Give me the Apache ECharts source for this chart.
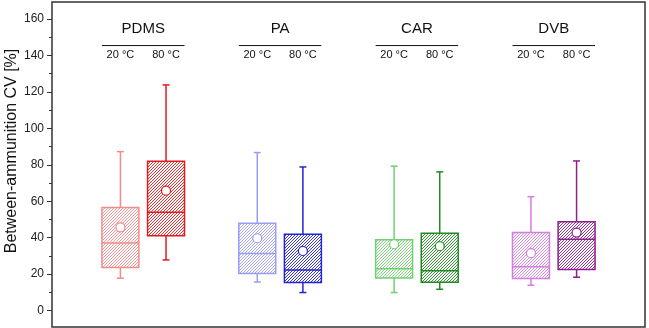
<!DOCTYPE html>
<html>
<head>
<meta charset="utf-8">
<script src="https://cdn.jsdelivr.net/npm/echarts@6/dist/echarts.min.js"></script>
<style>
	html, body { margin: 0; padding: 0; background: #fff; }
	#main { width: 649px; height: 328px; }
</style>
</head>
<body>
<div id="main"></div>
<script>
'use strict';
// groups and temperatures
var groups = ['PDMS', 'PA', 'CAR', 'DVB'];
var temps = ['20 °C', '80 °C'];
// box statistics, order: PDMS 20/80, PA 20/80, CAR 20/80, DVB 20/80
var whiskerLow = [17.8, 27.8, 15.7, 9.9, 9.9, 11.7, 13.9, 18.3];
var q1 = [23.6, 41.0, 20.3, 15.4, 17.9, 15.6, 17.6, 22.5];
var median = [37.1, 54.0, 31.3, 22.3, 22.9, 21.9, 24.0, 39.2];
var q3 = [56.5, 82.0, 47.9, 41.9, 38.9, 42.5, 42.8, 48.8];
var whiskerHigh = [87.2, 123.8, 86.7, 78.8, 79.2, 76.1, 62.5, 82.1];
var mean = [45.7, 65.8, 39.7, 32.7, 36.4, 35.3, 31.5, 42.8];
// y axis ticks
var yLabels = [0, 20, 40, 60, 80, 100, 120, 140, 160];
var yMinor = [10, 30, 50, 70, 90, 110, 130, 150];

var colors = ['#f28b8b', '#e3191c', '#9c9cf4', '#2222d6', '#72cf72', '#1f8a1f', '#d47ee0', '#8c1f8c'];
var FONT = '"Liberation Sans", Arial, sans-serif';

// category slots: empty slot around each pair of boxes
var slots = [];
var boxData = [];
var headerData = [];
groups.forEach(function (g, gi) {
	slots.push('');
	temps.forEach(function (t, ti) {
		var k = gi * 2 + ti;
		boxData.push([slots.length, whiskerLow[k], q1[k], median[k], q3[k], whiskerHigh[k], mean[k], k]);
		slots.push(g + ' ' + t);
	});
	headerData.push([slots.length - 2, slots.length - 1, gi]);
});
slots.push('');

// diagonal hatch lines inside a box, clipped to it
function hatchGroup(x0, y0, w, h, color) {
	var lines = [];
	var sp = 3;
	var bx = Math.round(x0), by = Math.round(y0 + h);
	for (var s = -Math.ceil(h); s < w + 3; s += sp) {
		lines.push({ type: 'line', shape: { x1: bx + s, y1: by, x2: bx + s + h + 2, y2: by - h - 2 },
			style: { stroke: color, lineWidth: 0.9 } });
	}
	return { type: 'group', clipPath: { type: 'rect', shape: { x: x0, y: y0, width: w, height: h } }, children: lines };
}

function renderBox(params, api) {
	var x = api.value(0);
	var k = api.value(7);
	var c = colors[k];
	var w = api.size([1, 0])[0] * 0.81;
	var lo = api.coord([x, api.value(1)]);
	var b1 = api.coord([x, api.value(2)]);
	var md = api.coord([x, api.value(3)]);
	var b3 = api.coord([x, api.value(4)]);
	var hi = api.coord([x, api.value(5)]);
	var mn = api.coord([x, api.value(6)]);
	var lab = api.coord([x, 140.2]);
	var cx = lo[0];
	var cap = 3.5;
	var ls = { stroke: c, lineWidth: 1.5 };
	return {
		type: 'group',
		children: [
			{ type: 'line', shape: { x1: cx, y1: hi[1], x2: cx, y2: b3[1] }, style: ls },
			{ type: 'line', shape: { x1: cx, y1: b1[1], x2: cx, y2: lo[1] }, style: ls },
			{ type: 'line', shape: { x1: cx - cap, y1: hi[1], x2: cx + cap, y2: hi[1] }, style: ls },
			{ type: 'line', shape: { x1: cx - cap, y1: lo[1], x2: cx + cap, y2: lo[1] }, style: ls },
			hatchGroup(cx - w / 2, b3[1], w, b1[1] - b3[1], c),
			{ type: 'rect', shape: { x: cx - w / 2, y: b3[1], width: w, height: b1[1] - b3[1] },
				style: { fill: 'none', stroke: c, lineWidth: 1.5 } },
			{ type: 'line', shape: { x1: cx - w / 2, y1: md[1], x2: cx + w / 2, y2: md[1] }, style: ls },
			{ type: 'circle', shape: { cx: cx, cy: mn[1], r: 4.5 }, style: { fill: '#fff', stroke: c, lineWidth: 1.2 } },
			{ type: 'text', style: { text: temps[k % 2], x: cx, y: lab[1], align: 'center', verticalAlign: 'middle',
				font: '11px ' + FONT, fill: '#111' } }
		]
	};
}

function renderHeader(params, api) {
	var w = api.size([1, 0])[0] * 0.81;
	var a = api.coord([api.value(0), 145.4]);
	var b = api.coord([api.value(1), 145.4]);
	var t = api.coord([api.value(0), 154.6]);
	return {
		type: 'group',
		children: [
			{ type: 'line', shape: { x1: a[0] - w / 2, y1: a[1], x2: b[0] + w / 2, y2: b[1] },
				style: { stroke: '#111', lineWidth: 1 } },
			{ type: 'text', style: { text: groups[api.value(2)], x: (a[0] + b[0]) / 2, y: t[1], align: 'center',
				verticalAlign: 'middle', font: '15px ' + FONT, fill: '#111' } }
		]
	};
}

var chart = echarts.init(document.getElementById('main'));
chart.setOption({
	animation: false,
	grid: {
		left: 52, right: 4, top: 2, bottom: 1,
		show: true, borderColor: '#333', borderWidth: 1.5,
		outerBoundsMode: 'none'
	},
	graphic: [{
		type: 'text',
		rotation: Math.PI / 2,
		x: 12, y: 151,
		style: { text: 'Between-ammunition CV [%]', font: '16px ' + FONT, fill: '#111', align: 'center', verticalAlign: 'middle' }
	}],
	xAxis: {
		type: 'category',
		data: slots,
		axisLine: { show: false },
		axisTick: { show: false },
		axisLabel: { show: false },
		splitLine: { show: false }
	},
	yAxis: [{
		type: 'value',
		min: -9, max: 169.3,
		axisLine: { show: false },
		splitLine: { show: false },
		axisTick: { show: true, inside: false, length: 5, lineStyle: { color: '#333', width: 1 }, customValues: yLabels },
		axisLabel: { fontSize: 12, fontFamily: FONT, color: '#222', margin: 8, customValues: yLabels }
	}, {
		type: 'value',
		position: 'left',
		min: -9, max: 169.3,
		axisLine: { show: false },
		splitLine: { show: false },
		axisLabel: { show: false },
		axisTick: { show: true, length: 3, lineStyle: { color: '#333', width: 1 }, customValues: yMinor }
	}],
	series: [{
		type: 'custom',
		renderItem: renderBox,
		data: boxData,
		encode: { x: 0, y: [1, 5] },
		silent: true
	}, {
		type: 'custom',
		renderItem: renderHeader,
		data: headerData,
		encode: { x: 0 },
		silent: true
	}]
});
</script>
</body>
</html>
